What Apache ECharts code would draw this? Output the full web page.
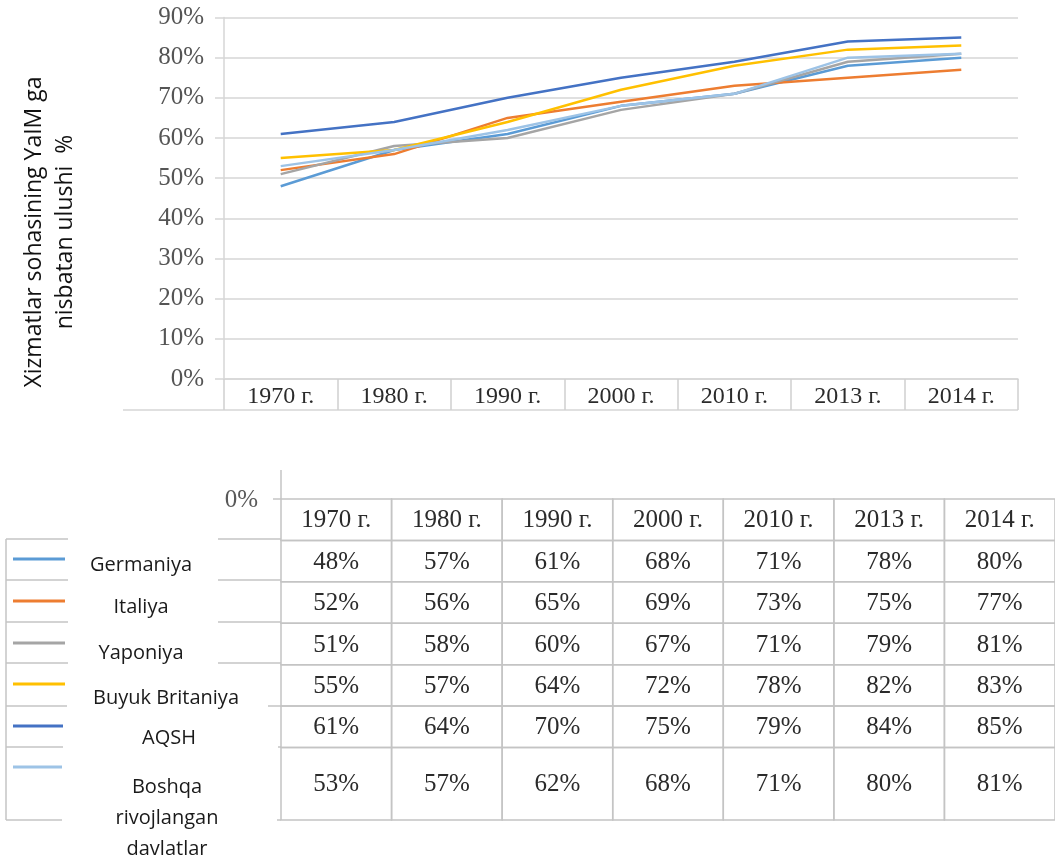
<!DOCTYPE html>
<html><head><meta charset="utf-8">
<script src="https://cdn.jsdelivr.net/npm/echarts@6/dist/echarts.min.js"></script>
<style>html,body{margin:0;padding:0;background:#fff}#c{width:1055px;height:859px}</style>
</head><body><div id="c"></div>
<script>
const years = ['1970 г.','1980 г.','1990 г.','2000 г.','2010 г.','2013 г.','2014 г.'];
const countries = ['Germaniya','Italiya','Yaponiya','Buyuk Britaniya','AQSH','Boshqa rivojlangan davlatlar'];
const germaniya = [48,57,61,68,71,78,80];
const italiya = [52,56,65,69,73,75,77];
const yaponiya = [51,58,60,67,71,79,81];
const buyukBritaniya = [55,57,64,72,78,82,83];
const aqsh = [61,64,70,75,79,84,85];
const boshqa = [53,57,62,68,71,80,81];
const yAxisTitle = 'Xizmatlar sohasining YaIM ga\nnisbatan ulushi  %';
const tableCornerLabel = '0%';

const seriesValues = [germaniya, italiya, yaponiya, buyukBritaniya, aqsh, boshqa];
const colors = ['#5B9BD5','#ED7D31','#A5A5A5','#FFC000','#4472C4','#9DC3E6'];
const SERIF = '"Liberation Serif", "Times New Roman", serif';
const SANS = '"Open Sans", sans-serif';
const GRID_C = '#d6d6d6';
const CELL_C = '#c4c4c4';

// table cells (header row + one row per country), built from the data arrays
const cells = [], cellTexts = [];
years.forEach((y, c) => { cells.push([c, 0, 1]); cellTexts.push(y); });
seriesValues.forEach((vals, r) => {
  const top = r + 1, bot = (r === seriesValues.length - 1) ? r + 2.75 : r + 2;
  vals.forEach((v, c) => { cells.push([c, top, bot]); cellTexts.push(v + '%'); });
});

const chart = echarts.init(document.getElementById('c'), null, {renderer: 'canvas'});

// legend drawn as a table column (sample line above label)
const legendLineY = [559, 601, 643, 684, 726, 767];
const legendLineX2 = [65, 65, 65, 65, 63, 62];
const legendText = [
  {t: countries[0], x: 141, y: 565},
  {t: countries[1], x: 141, y: 607},
  {t: countries[2], x: 141, y: 653},
  {t: countries[3], x: 166, y: 698},
  {t: countries[4], x: 169, y: 738},
  {t: 'Boshqa\nrivojlangan\ndavlatlar', x: 167, y: 818}
];
const graphics = [];
legendLineY.forEach((y, i) => {
  graphics.push({type: 'line', shape: {x1: 13, y1: y, x2: legendLineX2[i], y2: y}, style: {stroke: colors[i], lineWidth: 3}, silent: true});
});
legendText.forEach(o => {
  graphics.push({type: 'text', x: o.x, y: o.y, style: {text: o.t, align: 'center', verticalAlign: 'middle', fontFamily: SANS, fontSize: 20, lineHeight: 31, fill: '#1a1a1a'}, silent: true});
});
// legend box segments
const segY = [539, 580, 622, 663, 706, 747, 820];
const segL = [68, 68, 68, 68, 67, 63, 62];
const segR = [218, 218, 218, 218, 268, 278, 277];
segY.forEach((y, i) => {
  graphics.push({type: 'line', shape: {x1: 6, y1: y, x2: segL[i], y2: y}, style: {stroke: CELL_C, lineWidth: 1.5}, silent: true});
  graphics.push({type: 'line', shape: {x1: segR[i], y1: y, x2: 281, y2: y}, style: {stroke: CELL_C, lineWidth: 1.5}, silent: true});
});
graphics.push({type: 'line', shape: {x1: 6, y1: 539, x2: 6, y2: 820}, style: {stroke: CELL_C, lineWidth: 1.5}, silent: true});
graphics.push({type: 'line', shape: {x1: 281, y1: 470, x2: 281, y2: 499}, style: {stroke: CELL_C, lineWidth: 1.5}, silent: true});
graphics.push({type: 'line', shape: {x1: 273, y1: 499, x2: 281, y2: 499}, style: {stroke: CELL_C, lineWidth: 1.5}, silent: true});
graphics.push({type: 'text', x: 258, y: 500, style: {text: tableCornerLabel, align: 'right', verticalAlign: 'middle', fontFamily: SERIF, fontSize: 25, fill: '#595959'}, silent: true});
// bottom edge of the top chart's label row
graphics.push({type: 'line', shape: {x1: 123, y1: 410, x2: 1018, y2: 410}, style: {stroke: GRID_C, lineWidth: 1.5}, silent: true});
// y axis title
graphics.push({type: 'text', x: 50, y: 232, rotation: Math.PI / 2, style: {text: yAxisTitle, align: 'center', verticalAlign: 'middle', fontFamily: SANS, fontSize: 23, lineHeight: 31, fill: '#111'}, silent: true});

const option = {
  backgroundColor: '#fff',
  animation: false,
  grid: [
    {left: 224, top: 17.5, width: 794, height: 361.5},
    {left: 281, top: 499, width: 777, height: 321}
  ],
  xAxis: [
    {type: 'category', gridIndex: 0, data: years, boundaryGap: true,
     axisLine: {show: true, lineStyle: {color: GRID_C, width: 1.5}},
     axisTick: {show: true, length: 31, lineStyle: {color: '#cfcfcf', width: 1.5}},
     axisLabel: {fontFamily: SERIF, fontSize: 24, color: '#2b2b2b', margin: 6},
     splitLine: {show: false}},
    {type: 'category', gridIndex: 1, data: years, boundaryGap: true,
     axisLine: {show: false}, axisTick: {show: false}, axisLabel: {show: false}, splitLine: {show: false}}
  ],
  yAxis: [
    {type: 'value', gridIndex: 0, min: 0, max: 90, interval: 10,
     axisLine: {show: true, lineStyle: {color: GRID_C, width: 1.5}},
     axisTick: {show: true, length: 9, lineStyle: {color: GRID_C, width: 1.5}},
     axisLabel: {formatter: '{value}%', fontFamily: SERIF, fontSize: 25, color: '#555', margin: 20},
     splitLine: {show: true, lineStyle: {color: GRID_C, width: 1.5}}},
    {type: 'value', gridIndex: 1, min: 0, max: 7.75, inverse: true, show: false, splitLine: {show: false}}
  ],
  series: seriesValues.map((vals, i) => ({
    name: countries[i], type: 'line', xAxisIndex: 0, yAxisIndex: 0, data: vals,
    symbol: 'none', smooth: false, lineStyle: {color: colors[i], width: 2.5}, itemStyle: {color: colors[i]}, z: 3
  })).concat([{
    type: 'custom', xAxisIndex: 1, yAxisIndex: 1, data: cells, clip: false, silent: true,
    encode: {x: 0, y: [1, 2]},
    renderItem: function (params, api) {
      const c = api.value(0), top = api.value(1), bot = api.value(2);
      const p0 = api.coord([c, top]), p1 = api.coord([c, bot]);
      const w = api.size([1, 0])[0];
      const y0 = Math.min(p0[1], p1[1]), h = Math.abs(p1[1] - p0[1]);
      return {type: 'group', children: [
        {type: 'rect', shape: {x: p0[0] - w / 2, y: y0, width: w, height: h}, style: {fill: 'none', stroke: CELL_C, lineWidth: 1.5}},
        {type: 'text', style: {text: cellTexts[params.dataIndex], x: p0[0], y: y0 + h / 2 + 1, align: 'center', verticalAlign: 'middle', fontFamily: SERIF, fontSize: 25, fill: '#2b2b2b'}}
      ]};
    }
  }]),
  graphic: graphics
};
chart.setOption(option);
</script></body></html>
